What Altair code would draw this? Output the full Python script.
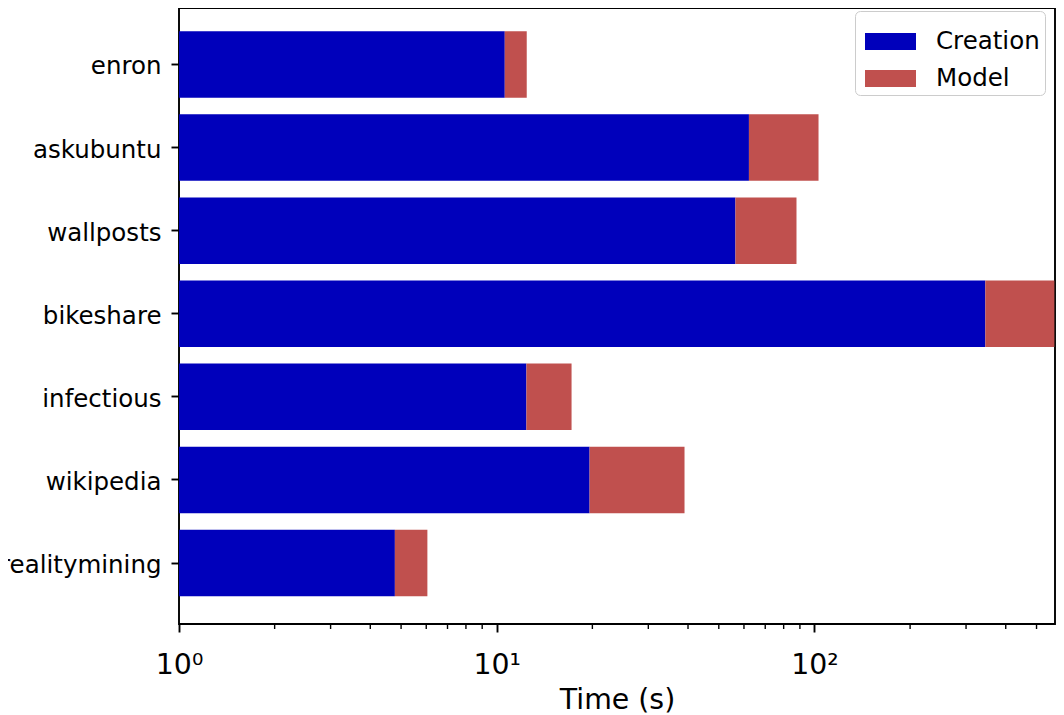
import altair as alt
import pandas as pd

# ---- data ----
datasets = ["enron", "askubuntu", "wallposts", "bikeshare", "infectious", "wikipedia", "realitymining"]
creation = [10.6, 62.2, 56.4, 345.0, 12.4, 19.6, 4.78]
model = [1.83, 40.8, 31.4, 224.0, 4.8, 19.4, 1.27]
components = ["Creation", "Model"]
colors = ["#0000bb", "#c0504e"]
major_ticks = [1, 10, 100]
minor_ticks = [2, 3, 4, 5, 6, 7, 8, 9, 20, 30, 40, 50, 60, 70, 80, 90, 200, 300, 400, 500]
x_min, x_max = 1, 571.6

rows = []
for d, c, m in zip(datasets, creation, model):
    rows.append({"dataset": d, "component": "Creation", "start": x_min, "end": c})
    rows.append({"dataset": d, "component": "Model", "start": c, "end": c + m})
df = pd.DataFrame(rows)
minor_df = pd.DataFrame({"v": minor_ticks})

W, H = 876, 616
FONT = "DejaVu Sans"
FS_Y = 24.5
FS_X = 28.4

xscale = alt.Scale(type="log", domain=[x_min, x_max], nice=False)


def x_axis():
    return alt.Axis(
        values=major_ticks,
        labelExpr="'10' + ['⁰','¹','²','³'][round(log(datum.value)/LN10)]",
        title="Time (s)",
        tickSize=8,
        tickWidth=1.9,
        labelPadding=19,
        labelFontSize=FS_X,
        titleFontSize=FS_X,
        titlePadding=8,
        labelFlush=False,
        labelOverlap=False,
    )


bars = alt.Chart(df).mark_bar().encode(
    y=alt.Y(
        "dataset:N",
        sort=datasets,
        scale=alt.Scale(paddingInner=0.2, paddingOuter=0.307, align=0.456),
        axis=alt.Axis(title=None, tickSize=8, tickWidth=1.9, labelPadding=10,
                      labelOffset=3, labelLimit=400, labelFontSize=FS_Y),
    ),
    x=alt.X("start:Q", scale=xscale, axis=x_axis()),
    x2="end:Q",
    color=alt.Color(
        "component:N",
        scale=alt.Scale(domain=components, range=colors),
        legend=alt.Legend(
            title=None,
            orient="none",
            legendX=676,
            legendY=3,
            symbolType="M-1,-0.3333L1,-0.3333L1,0.3333L-1,0.3333Z",
            symbolSize=2601,
            symbolStrokeWidth=0,
            symbolOffset=5,
            labelExpr="datum.label + ' '",
            labelFontSize=FS_Y,
            labelFont=FONT,
            labelColor="black",
            labelOffset=20,
            rowPadding=0,
            padding=5,
            strokeColor="#cccccc",
            fillColor="rgba(255,255,255,0.8)",
            cornerRadius=5,
        ),
    ),
)

minor = alt.Chart(minor_df).mark_rule(color="black", strokeWidth=1.4).encode(
    x=alt.X("v:Q", scale=xscale, axis=x_axis()),
    y=alt.value(H),
    y2=alt.value(H + 5),
)

chart = (
    alt.layer(bars, minor)
    .properties(
        width=W,
        height=H,
        autosize=alt.AutoSizeParams(type="none"),
        padding={"left": 171, "top": 0, "right": 1, "bottom": 91},
    )
    .configure_view(stroke="black", strokeWidth=1.9)
    .configure_axis(
        domain=False,
        grid=False,
        labelFont=FONT,
        labelColor="black",
        tickColor="black",
        titleFont=FONT,
        titleFontWeight="normal",
        titleColor="black",
    )
)

chart.save("out.html", embed_options={"renderer": "svg", "actions": False})
